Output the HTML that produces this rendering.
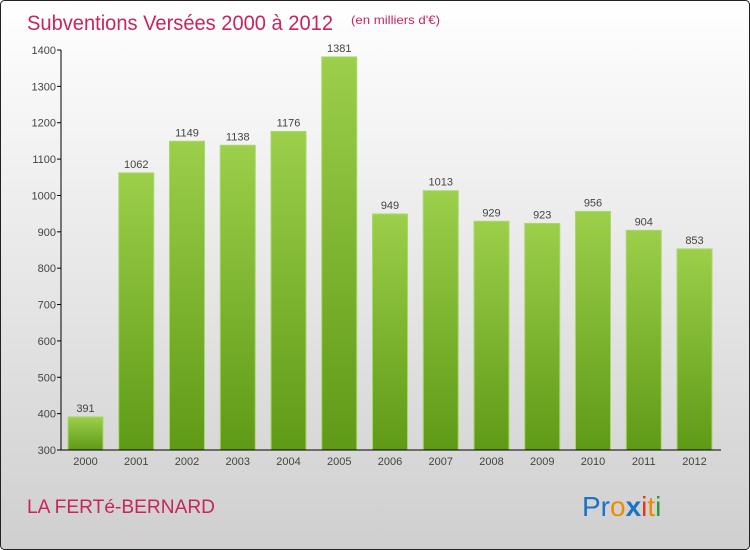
<!DOCTYPE html>
<html><head><meta charset="utf-8"><style>
html,body{margin:0;padding:0;width:750px;height:550px;overflow:hidden}
svg{display:block;font-family:"Liberation Sans",sans-serif}
</style></head><body>
<svg id="chart" width="750" height="550" viewBox="0 0 750 550">
<defs>
<linearGradient id="bg" x1="0" y1="0" x2="0" y2="1"><stop offset="0" stop-color="#ffffff"/><stop offset="1" stop-color="#cfcfcf"/></linearGradient>
<linearGradient id="bar" x1="0" y1="0" x2="0" y2="1"><stop offset="0" stop-color="#9ccf4a"/><stop offset="1" stop-color="#5f9a16"/></linearGradient>
</defs>
<rect x="0.5" y="0.5" width="749" height="549" rx="4" fill="url(#bg)" stroke="#222"/>
<text x="27" y="30" font-size="21" fill="#c8245e" textLength="306" lengthAdjust="spacingAndGlyphs">Subventions Versées 2000 à 2012</text>
<text x="351" y="24" font-size="12" fill="#c8245e" textLength="89" lengthAdjust="spacingAndGlyphs">(en milliers d'€)</text>
<g id="grid"></g>
<g id="bars"></g>
<line x1="61" y1="50" x2="61" y2="450" stroke="#000"/>
<line x1="61" y1="450" x2="721" y2="450" stroke="#000"/>
<text x="27" y="513" font-size="19" fill="#c8245e" textLength="188" lengthAdjust="spacingAndGlyphs">LA FERTé-BERNARD</text>
<g font-size="28" font-family="'Liberation Sans',sans-serif">
<text x="582" y="516"><tspan fill="#1a73c8">Pr</tspan><tspan fill="#f08a00">o</tspan><tspan fill="#1a73c8" font-weight="bold">x</tspan><tspan fill="#e03a1a">i</tspan><tspan fill="#f08a00">t</tspan><tspan fill="#2a9a3a">i</tspan></text>
</g>
</svg>
<script>
const years=["2000","2001","2002","2003","2004","2005","2006","2007","2008","2009","2010","2011","2012"];
const values=[391,1062,1149,1138,1176,1381,949,1013,929,923,956,904,853];
const yTicks=[300,400,500,600,700,800,900,1000,1100,1200,1300,1400];
const NS="http://www.w3.org/2000/svg";
const y=v=>450-(v-300)*400/1100;
const x=i=>85.5+i*50.75;
const g=document.getElementById('bars'),gr=document.getElementById('grid');
function mk(t,a,p){const e=document.createElementNS(NS,t);for(const k in a)e.setAttribute(k,a[k]);p.appendChild(e);return e;}
yTicks.forEach(t=>{
 const l=mk('line',{x1:57,x2:61,y1:y(t),y2:y(t),stroke:'#000'},gr);
 
 
 const tx=mk('text',{x:56,y:y(t)+4,'text-anchor':'end','font-size':11,fill:'#444'},gr);
 tx.textContent=t;
 
 
});
years.forEach((yr,i)=>{
 const r=mk('rect',{x:x(i)-17.5,y:y(values[i]),width:35,height:450-y(values[i]),fill:'url(#bar)',stroke:'#a9d86a','stroke-width':1},g);
 
 
 const v=mk('text',{x:x(i),y:y(values[i])-5,'text-anchor':'middle','font-size':11,fill:'#444'},g);
 v.textContent=values[i];
 
 
 const xl=mk('text',{x:x(i),y:465,'text-anchor':'middle','font-size':11,fill:'#444'},g);
 xl.textContent=yr;
 
 
});
</script>
</body></html>
